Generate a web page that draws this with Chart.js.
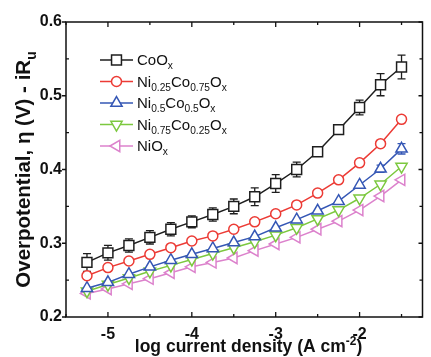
<!DOCTYPE html>
<html>
<head>
<meta charset="utf-8">
<script src="https://cdn.jsdelivr.net/npm/chart.js@4"></script>
<style>
  html, body { margin: 0; padding: 0; background: #fff; }
</style>
</head>
<body>
<canvas id="chart" width="431" height="357"></canvas>
<script>
// datos
const logJ = [-5.25, -5, -4.75, -4.5, -4.25, -4, -3.75, -3.5, -3.25, -3, -2.75, -2.5, -2.25, -2, -1.75, -1.5];
const coOx = [0.274, 0.287, 0.297, 0.308, 0.319, 0.329, 0.339, 0.350, 0.363, 0.381, 0.400, 0.424, 0.454, 0.484, 0.515, 0.539];
const coOxErr = [0.012, 0.010, 0.009, 0.009, 0.009, 0.008, 0.009, 0.010, 0.012, 0.012, 0.010, 0.005, 0.004, 0.010, 0.015, 0.016];
const ni25 = [0.256, 0.267, 0.276, 0.285, 0.294, 0.303, 0.310, 0.319, 0.329, 0.340, 0.352, 0.368, 0.386, 0.409, 0.435, 0.468];
const ni50 = [0.239, 0.247, 0.258, 0.268, 0.277, 0.285, 0.293, 0.301, 0.309, 0.321, 0.332, 0.344, 0.357, 0.379, 0.401, 0.428];
const ni50Err = [0, 0, 0, 0, 0, 0, 0, 0, 0, 0, 0, 0, 0, 0, 0.005, 0.007];
const ni75 = [0.235, 0.244, 0.253, 0.262, 0.270, 0.278, 0.286, 0.294, 0.302, 0.311, 0.321, 0.333, 0.345, 0.361, 0.380, 0.404];
const niOx = [0.232, 0.238, 0.245, 0.252, 0.260, 0.268, 0.274, 0.280, 0.290, 0.299, 0.308, 0.319, 0.330, 0.345, 0.364, 0.386];

const xTicks = [-5, -4, -3, -2];
const xMinor = [-5.5, -4.5, -3.5, -2.5, -1.5];
const yTicks = [0.2, 0.3, 0.4, 0.5, 0.6];
const yMinor = [0.25, 0.35, 0.45, 0.55];

// nombres con subindices: [texto, 'n' | 'sub' | 'sup']
const seriesNames = [
  [["CoO", "n"], ["x", "sub"]],
  [["Ni", "n"], ["0.25", "sub"], ["Co", "n"], ["0.75", "sub"], ["O", "n"], ["x", "sub"]],
  [["Ni", "n"], ["0.5", "sub"], ["Co", "n"], ["0.5", "sub"], ["O", "n"], ["x", "sub"]],
  [["Ni", "n"], ["0.75", "sub"], ["Co", "n"], ["0.25", "sub"], ["O", "n"], ["x", "sub"]],
  [["NiO", "n"], ["x", "sub"]],
];
const xTitle = [["log current density (A cm", "n"], ["-2", "sup"], [")", "n"]];
const yTitle = [["Overpotential, \u03b7 (V) - iR", "n"], ["u", "sub"]];

const FONT = "'Liberation Sans', Arial, sans-serif";

const styles = [
  { color: "#1e1e1e", pointStyle: "rect", radius: 7, rotation: 0 },
  { color: "#ec3b35", pointStyle: "circle", radius: 5, rotation: 0 },
  { color: "#3557b5", pointStyle: "triangle", radius: 6.5, rotation: 0 },
  { color: "#7cc83f", pointStyle: "triangle", radius: 6.5, rotation: 180 },
  { color: "#dc82cc", pointStyle: "triangle", radius: 6.5, rotation: 270 },
];
const allSeries = [coOx, ni25, ni50, ni75, niOx];
const allErr = [coOxErr, null, ni50Err, null, null];

const datasets = allSeries.map((vals, i) => ({
  label: seriesNames[i].map((p) => p[0]).join(""),
  data: logJ.map((x, k) => ({ x: x, y: vals[k] })),
  errors: allErr[i],
  borderColor: styles[i].color,
  backgroundColor: "#fff",
  borderWidth: 1.5,
  pointStyle: styles[i].pointStyle,
  pointRadius: styles[i].radius,
  pointRotation: styles[i].rotation,
  pointBorderWidth: 1.5,
  pointBackgroundColor: "#fff",
  pointBorderColor: styles[i].color,
  tension: 0,
}));

function richWidth(ctx, parts, size, weight) {
  let w = 0;
  parts.forEach(([t, k]) => {
    const s = k === "n" ? size : size * 0.68;
    ctx.font = weight + " " + s + "px " + FONT;
    w += ctx.measureText(t).width;
  });
  return w;
}

function drawRich(ctx, parts, x, y, size, weight) {
  parts.forEach(([t, k]) => {
    const s = k === "n" ? size : size * 0.68;
    const dy = k === "sub" ? size * 0.28 : k === "sup" ? -size * 0.4 : 0;
    ctx.font = weight + " " + s + "px " + FONT;
    ctx.fillText(t, x, y + dy);
    x += ctx.measureText(t).width;
  });
}

// barras de error, antes de los puntos
const errorBars = {
  id: "errorBars",
  beforeDatasetsDraw(chart) {
    const { ctx, scales } = chart;
    chart.data.datasets.forEach((ds) => {
      if (!ds.errors) return;
      ctx.save();
      ctx.strokeStyle = ds.borderColor;
      ctx.lineWidth = 1.3;
      ds.data.forEach((p, k) => {
        const e = ds.errors[k];
        if (!e) return;
        const px = scales.x.getPixelForValue(p.x);
        const y1 = scales.y.getPixelForValue(p.y + e);
        const y2 = scales.y.getPixelForValue(p.y - e);
        ctx.beginPath();
        ctx.moveTo(px, y1); ctx.lineTo(px, y2);
        ctx.moveTo(px - 4, y1); ctx.lineTo(px + 4, y1);
        ctx.moveTo(px - 4, y2); ctx.lineTo(px + 4, y2);
        ctx.stroke();
      });
      ctx.restore();
    });
  },
};

// marco, marcas, titulos y leyenda
const frame = {
  id: "frame",
  afterDraw(chart) {
    const { ctx, chartArea: a, scales } = chart;
    ctx.save();
    ctx.strokeStyle = "#111";
    ctx.lineWidth = 1.5;
    ctx.strokeRect(a.left, a.top, a.right - a.left, a.bottom - a.top);
    ctx.lineWidth = 1.3;
    ctx.beginPath();
    xTicks.forEach((v) => {
      const px = scales.x.getPixelForValue(v);
      ctx.moveTo(px, a.bottom); ctx.lineTo(px, a.bottom - 5);
      ctx.moveTo(px, a.top); ctx.lineTo(px, a.top + 5);
    });
    xMinor.forEach((v) => {
      const px = scales.x.getPixelForValue(v);
      ctx.moveTo(px, a.bottom); ctx.lineTo(px, a.bottom - 3);
      ctx.moveTo(px, a.top); ctx.lineTo(px, a.top + 3);
    });
    yTicks.forEach((v) => {
      const py = scales.y.getPixelForValue(v);
      ctx.moveTo(a.left, py); ctx.lineTo(a.left - 4, py);
      ctx.moveTo(a.right, py); ctx.lineTo(a.right - 4, py);
    });
    yMinor.forEach((v) => {
      const py = scales.y.getPixelForValue(v);
      ctx.moveTo(a.left, py); ctx.lineTo(a.left + 3, py);
      ctx.moveTo(a.right, py); ctx.lineTo(a.right - 3, py);
    });
    ctx.stroke();

    ctx.fillStyle = "#111";
    ctx.textBaseline = "alphabetic";
    ctx.textAlign = "left";
    // titulo eje x
    const wx = richWidth(ctx, xTitle, 17.5, "bold");
    drawRich(ctx, xTitle, 248.5 - wx / 2, 352, 17.5, "bold");
    // titulo eje y
    ctx.save();
    ctx.translate(30, (a.top + a.bottom) / 2);
    ctx.rotate(-Math.PI / 2);
    const wy = richWidth(ctx, yTitle, 20.5, "bold");
    drawRich(ctx, yTitle, -wy / 2, 0, 20.5, "bold");
    ctx.restore();

    // leyenda
    styles.forEach((s, i) => {
      const ly = 60 + 21.5 * i;
      ctx.strokeStyle = s.color;
      ctx.lineWidth = 1.5;
      ctx.beginPath();
      ctx.moveTo(100, ly); ctx.lineTo(133, ly);
      ctx.stroke();
      ctx.fillStyle = "#fff";
      Chart.helpers.drawPoint(ctx, { pointStyle: s.pointStyle, radius: s.radius, rotation: s.rotation, borderWidth: 1.5 }, 116.5, ly);
      ctx.fillStyle = "#111";
      drawRich(ctx, seriesNames[i], 137, ly + 5, 15, "normal");
    });
    ctx.restore();
  },
};

new Chart(document.getElementById("chart"), {
  type: "line",
  data: { datasets: datasets },
  options: {
    responsive: false,
    animation: false,
    layout: { padding: { top: 22, right: 1, left: 0, bottom: 0 } },
    plugins: { legend: { display: false }, tooltip: { enabled: false } },
    scales: {
      x: {
        type: "linear",
        min: -5.5,
        max: -1.25,
        grid: { display: false, drawTicks: false },
        border: { display: false },
        afterBuildTicks: (s) => { s.ticks = xTicks.map((v) => ({ value: v })); },
        afterFit: (s) => { s.height = 40; },
        ticks: {
          padding: 8,
          color: "#111",
          font: { family: FONT, size: 16, weight: "bold" },
          callback: (v) => String(v),
        },
      },
      y: {
        type: "linear",
        min: 0.2,
        max: 0.6,
        grid: { display: false, drawTicks: false },
        border: { display: false },
        afterBuildTicks: (s) => { s.ticks = yTicks.map((v) => ({ value: v })); },
        afterFit: (s) => { s.width = 66; },
        ticks: {
          padding: 4,
          color: "#111",
          font: { family: FONT, size: 16, weight: "bold" },
          callback: (v) => v.toFixed(1),
        },
      },
    },
  },
  plugins: [errorBars, frame],
});
</script>
</body>
</html>
